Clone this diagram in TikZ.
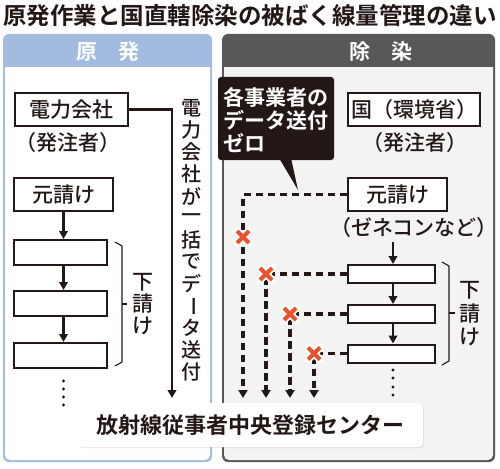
\documentclass[tikz,border=0pt]{standalone}
\usepackage{fontspec}
\setmainfont{Noto Sans CJK JP}[BoldFont={* Bold}]
\newfontfamily\medf{Noto Sans CJK JP Medium}
\usetikzlibrary{arrows.meta,shadows}
\definecolor{ink}{HTML}{231815}
\definecolor{genc}{HTML}{A3BBDF}
\definecolor{dk}{HTML}{595757}
\definecolor{lg}{HTML}{F3F3F3}
\definecolor{xr}{HTML}{E8532F}
\begin{document}
\begin{tikzpicture}[x=1pt,y=-1pt,
  txt/.style={inner sep=0pt, text=ink, font=\medf\fontsize{21}{24}\selectfont},
  vtxt/.style={inner sep=0pt, text=ink, font=\medf\fontsize{20}{24}\selectfont},
  hdr/.style={inner sep=0pt, text=white, font=\bfseries\fontsize{21}{24}\selectfont},
  wtxt/.style={inner sep=0pt, text=white, anchor=west, font=\bfseries\fontsize{21}{24}\selectfont},
  bx/.style={draw=ink, line width=2pt, fill=white, inner sep=0pt, text=ink, font=\medf\fontsize{21}{24}\selectfont},
  arr/.style={draw=ink, line width=2.2pt, -{Triangle[width=8.5pt,length=8pt]}},
  dsh/.style={draw=ink, line width=3.2pt, dash pattern=on 7.5pt off 4.5pt, -{Triangle[width=9pt,length=8pt]}},
  brk/.style={draw=ink, line width=1.1pt},
  dotc/.style={fill=ink}
]
\useasboundingbox (0,0) rectangle (500,468);
\fill[white] (0,0) rectangle (500,468);

% title
\node[inner sep=0pt, text=ink, font=\bfseries\fontsize{23.5}{26}\selectfont] (title) at (250,16) {原発作業と国直轄除染の被ばく線量管理の違い};

% left panel
\fill[genc, rounded corners=6pt] (3,34) rectangle (212,462);
\begin{scope}
  \clip (0,68) rectangle (500,468);
  \fill[white, rounded corners=5pt] (5,50) rectangle (210,460);
\end{scope}
\node[hdr] (lh) at (107.5,52) {原　発};

% right panel
\fill[dk, rounded corners=6pt] (222,34) rectangle (495,462);
\begin{scope}
  \clip (0,68) rectangle (500,468);
  \fill[lg, rounded corners=5pt] (224,50) rectangle (493,460);
\end{scope}
\node[hdr] (rh) at (380.5,52) {除　染};

% ---- left content
\node[bx, minimum width=113pt, minimum height=33pt] (den) at (71.5,109.5) {電力会社};
\node[txt] (hat1) at (68,143) {（発注者）};
\node[bx, minimum width=99pt, minimum height=33pt] (gen1) at (63.5,194.5) {元請け};
\node[bx, minimum width=93pt, minimum height=25pt] (b1) at (60.5,252.5) {};
\node[bx, minimum width=93pt, minimum height=25pt] (b2) at (60.5,303.5) {};
\node[bx, minimum width=93pt, minimum height=25pt] (b3) at (60.5,355.5) {};
\draw[arr] (gen1.south) -- (gen1.south |- b1.north);
\draw[arr] (gen1.south |- b1.south) -- (gen1.south |- b2.north);
\draw[arr] (gen1.south |- b2.south) -- (gen1.south |- b3.north);
\foreach \yy in {381,389,397,405} \fill[dotc] (63.5,\yy) circle (1.7pt);
\draw[brk] (115,242) -- (122,246) -- (122,362) -- (115,366);
\draw[brk] (122,304) -- (127,304);
\node[txt] (ls1) at (143,282) {下};
\node[txt] (ls2) at (143,304) {請};
\node[txt] (ls3) at (143,326) {け};

% centre box
\node[fill=white, rounded corners=4pt, minimum width=345pt, minimum height=44pt, inner sep=0pt,
  drop shadow={shadow xshift=0.8pt, shadow yshift=-1.2pt, opacity=0.18},
  text=ink, font=\bfseries\fontsize{22}{24}\selectfont] (cent) at (250.5,425) {放射線従事者中央登録センター};

% solid line from den
\coordinate (dc) at (172,109.5);
\coordinate (de) at (172,398);
\draw[arr] (den.east) -- (dc) -- (de);
% vertical text
\foreach \c [count=\i from 0] in {電,力,会,社,が,一,括,で,デ,ー,タ,送,付} {
  \ifnum\i=9
    \node[vtxt, rotate=-90] (v\i) at (191,{108+22*\i}) {\c};
  \else
    \node[vtxt] (v\i) at (191,{108+22*\i}) {\c};
  \fi
}

% ---- right content
\node[bx, minimum width=132pt, minimum height=33pt] (kuni) at (414,109.5) {国（環境省）};
\node[txt] (hat2) at (415,143) {（発注者）};
\node[bx, minimum width=99pt, minimum height=33pt] (gen2) at (397.5,194.5) {元請け};
\node[txt] (zene) at (414,228) {（ゼネコンなど）};
\node[bx, minimum width=87pt, minimum height=18pt] (rb1) at (391.5,274) {};
\node[bx, minimum width=87pt, minimum height=18pt] (rb2) at (391.5,314) {};
\node[bx, minimum width=87pt, minimum height=18pt] (rb3) at (391.5,353.5) {};
\coordinate (za) at (393,242);
\draw[arr] (za) -- (za |- rb1.north);
\draw[arr] (za |- rb1.south) -- (za |- rb2.north);
\draw[arr] (za |- rb2.south) -- (za |- rb3.north);
\foreach \yy in {370,378,387,395} \fill[dotc] (393,\yy) circle (1.7pt);
\draw[brk] (442,262) -- (449,266) -- (449,361) -- (442,365);
\draw[brk] (449,313) -- (455,313);
\node[txt] (rs1) at (470,290) {下};
\node[txt] (rs2) at (470,313.5) {請};
\node[txt] (rs3) at (470,337) {け};

% dashed connectors
\coordinate (c0) at (243,194.5); \coordinate (e0) at (243,398);
\coordinate (c1) at (266,274);   \coordinate (e1) at (266,398);
\coordinate (c2) at (290,314);   \coordinate (e2) at (290,398);
\coordinate (c3) at (314,353.5); \coordinate (e3) at (314,398);
\draw[dsh] (gen2.west) -- (c0) -- (e0);
\draw[dsh] (rb1.west) -- (c1) -- (e1);
\draw[dsh] (rb2.west) -- (c2) -- (e2);
\draw[dsh] (rb3.west) -- (c3) -- (e3);
\foreach \p in {(243,237),(266,274),(290,314),(314,353.5)} {
  \draw[white, line width=7.5pt, line cap=round, shift={\p}] (-6,-6) -- (6,6) (-6,6) -- (6,-6);
  \draw[xr, line width=4pt, shift={\p}] (-6,-6) -- (6,6) (-6,6) -- (6,-6);
}

% callout
\fill[ink, rounded corners=3pt] (218,77) rectangle (334,160);
\fill[ink] (279,158) -- (291,158) -- (298,190) -- cycle;
\node[wtxt] (call1) at (223,97) {各事業者の};
\node[wtxt] (call2) at (223,120) {データ送付};
\node[wtxt] (call3) at (223,143) {ゼロ};
\end{tikzpicture}
\end{document}
